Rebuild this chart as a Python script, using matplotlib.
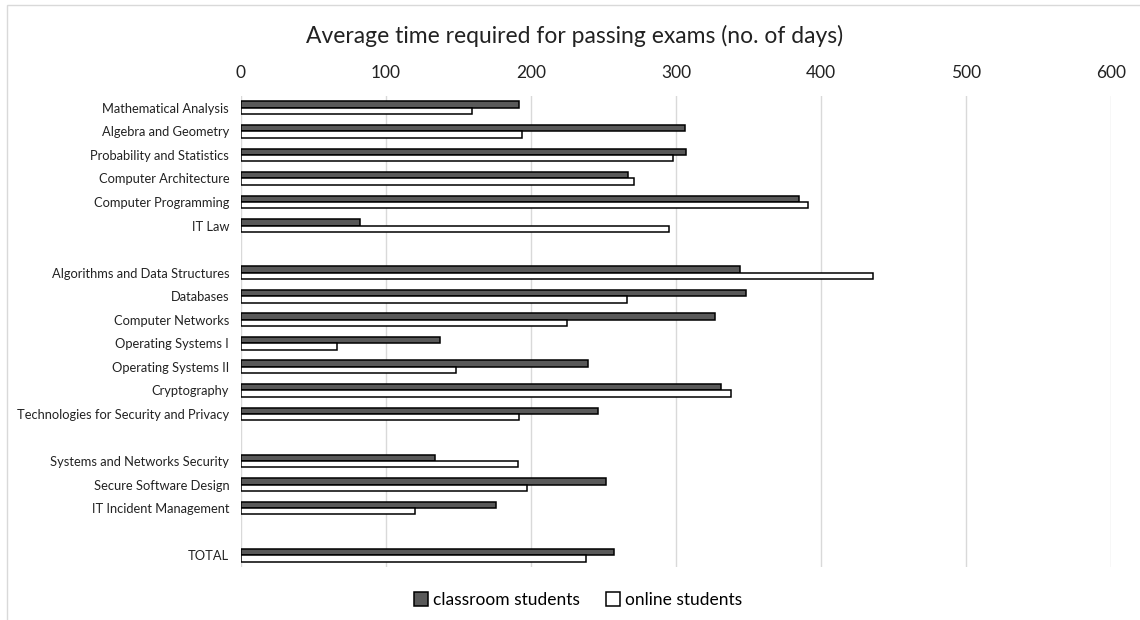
import matplotlib.pyplot as plt
import numpy as np
from matplotlib.patches import Rectangle

plt.rcParams['font.family'] = ['Lato', 'DejaVu Sans']

# rows in display order (blank strings are the gaps between groups)
subjects = ["Mathematical Analysis", "Algebra and Geometry", "Probability and Statistics",
            "Computer Architecture", "Computer Programming", "IT Law", "",
            "Algorithms and Data Structures", "Databases", "Computer Networks",
            "Operating Systems I", "Operating Systems II", "Cryptography",
            "Technologies for Security and Privacy", "",
            "Systems and Networks Security", "Secure Software Design",
            "IT Incident Management", "", "TOTAL"]
classroom = [192, 306, 307, 267, 385, 82, np.nan,
             344, 348, 327, 137, 239, 331, 246, np.nan,
             134, 252, 176, np.nan, 257]
online = [159, 194, 298, 271, 391, 295, np.nan,
          436, 266, 225, 66, 148, 338, 192, np.nan,
          191, 197, 120, np.nan, 238]
xticks = [0, 100, 200, 300, 400, 500, 600]

fig = plt.figure(figsize=(11.4, 6.2), dpi=100)
ax = fig.add_axes([241 / 1140, 1 - 567 / 620, 870 / 1140, 471 / 620])

y = np.arange(len(subjects))
h = 0.27
ax.barh(y - h / 2, classroom, height=h, color='#595959', edgecolor='black',
        linewidth=1.1, label='classroom students', zorder=3)
ax.barh(y + h / 2, online, height=h, color='white', edgecolor='black',
        linewidth=1.1, label='online students', zorder=3)

ax.set_xlim(0, 600)
ax.set_ylim(len(subjects) - 0.5, -0.5)
ax.set_xticks(xticks)
ax.xaxis.tick_top()
ax.tick_params(axis='x', length=0, labelsize=12.5, pad=11, colors='#222222')
ax.set_yticks(y)
ax.set_yticklabels(subjects)
ax.tick_params(axis='y', length=0, labelsize=9.25, pad=8.5, colors='#222222')
ax.grid(axis='x', color='#d9d9d9', linewidth=1, zorder=0)
for s in ax.spines.values():
    s.set_visible(False)

fig.text(575 / 1140, 1 - 36 / 620, 'Average time required for passing exams (no. of days)',
         ha='center', va='center', fontsize=16.5, color='#222222')

fig.legend(loc='center', bbox_to_anchor=(578 / 1140, 1 - 600 / 620), ncol=2,
           frameon=False, fontsize=12.5, handlelength=0.8, handleheight=0.8,
           handletextpad=0.3, columnspacing=1.5)

fig.patches.append(Rectangle((7 / 1140, -0.1), 1.2, 1 - 5 / 620 + 0.1,
                             transform=fig.transFigure, fill=False,
                             edgecolor='#d9d9d9', linewidth=1))

fig.savefig('out.png', dpi=100)
